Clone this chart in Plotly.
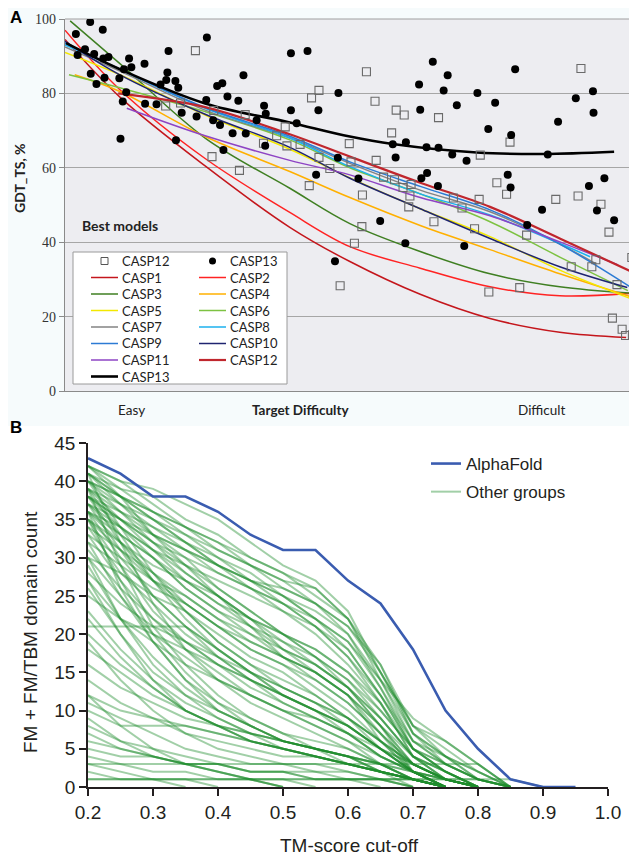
import plotly.graph_objects as go

# page body keeps an 8px margin, so the figure is drawn 8px smaller and shifted
OFF = 8
W, H = 637 - OFF, 857 - OFF

# ---------------- Panel A data ----------------
casp13_x = [1.9, 4.4, 6.6, 3.5, 2.2, 5.1, 6.7, 7.6, 4.5, 5.5,
            6.9, 9.5, 11.2, 11.6, 10.3, 13.9, 18.1, 17.9, 16.7, 17.7,
            19.3, 19.8, 10.1, 10.7, 14.0, 16.0, 9.7, 19.4, 20.4, 23.0,
            24.8, 24.7, 26.6, 27.5, 28.4, 30.3, 31.2, 25.9, 27.1, 29.3,
            31.6, 27.7, 33.5, 34.8, 35.1, 35.0, 39.5, 42.4, 39.5, 40.5,
            44.3, 47.8, 43.9, 47.7, 47.2, 64.3, 66.9, 61.9, 66.2, 72.1,
            75.2, 62.1, 68.5, 74.0, 57.3, 59.6, 63.2, 65.3, 67.7, 70.2,
            57.8, 63.3, 62.3, 65.2, 51.3, 55.1, 59.5, 69.8, 78.7, 78.0,
            84.4, 89.3, 92.3, 92.4, 86.2, 77.4, 77.9, 83.4, 91.6, 94.3,
            93.0, 96.0, 80.8]
casp13_y = [96.0, 99.2, 97.1, 91.9, 90.3, 90.6, 89.4, 89.8, 85.3, 82.5,
            84.2, 84.1, 89.4, 87.0, 86.5, 88.0, 91.4, 85.6, 82.4, 83.6,
            83.3, 81.5, 77.8, 80.3, 77.2, 77.1, 67.8, 67.4, 74.8, 73.8,
            95.0, 78.2, 82.0, 82.7, 79.2, 78.0, 84.9, 72.8, 71.5, 69.3,
            69.2, 64.8, 72.8, 76.7, 74.5, 65.9, 90.8, 91.4, 75.5, 72.0,
            75.5, 80.1, 58.1, 62.7, 34.9, 88.5, 84.9, 82.4, 80.8, 80.1,
            77.5, 75.6, 76.8, 70.4, 66.3, 66.9, 65.5, 65.4, 63.6, 61.9,
            62.8, 58.6, 57.2, 55.1, 57.1, 45.7, 39.7, 39.0, 86.5, 68.8,
            63.6, 78.7, 80.6, 74.8, 72.4, 58.1, 54.7, 48.7, 55.1, 57.2,
            48.5, 45.9, 44.6]

casp12_x = [22.8, 17.6, 20.2, 25.7, 26.0, 30.5, 31.5, 34.7, 37.0, 38.5,
            38.8, 41.1, 42.7, 43.1, 44.4, 44.4, 46.3, 49.7, 50.0, 50.6,
            48.1, 52.7, 54.2, 57.9, 59.3, 65.3, 57.1, 54.4, 55.7, 57.6,
            59.1, 60.5, 60.3, 60.1, 52.0, 51.9, 64.5, 67.9, 69.4, 72.4,
            71.6, 72.6, 75.5, 74.1, 90.2, 77.8, 77.2, 85.8, 89.7, 93.7,
            95.1, 80.7, 92.8, 88.5, 92.1, 99.1, 96.5, 79.5, 95.7, 97.4,
            98.0, 99.2]
casp12_y = [91.5, 76.6, 77.4, 63.0, 75.4, 59.3, 74.3, 66.6, 68.6, 71.0,
            65.9, 66.3, 55.2, 78.8, 80.8, 62.8, 59.8, 66.5, 61.6, 39.7,
            28.3, 85.8, 77.9, 75.5, 74.2, 73.5, 69.4, 62.0, 57.5, 56.8,
            54.7, 55.5, 52.4, 49.5, 52.7, 44.2, 45.5, 51.9, 49.2, 51.5,
            43.6, 63.4, 56.0, 26.6, 86.7, 66.9, 52.9, 51.5, 52.4, 50.2,
            42.7, 41.9, 35.3, 33.4, 33.4, 35.9, 28.6, 27.8, 19.6, 16.6,
            14.9, 15.1]

# trend curves (difficulty position, GDT_TS)
casp_names = ["CASP1", "CASP2", "CASP3", "CASP4", "CASP5", "CASP6", "CASP7",
              "CASP8", "CASP9", "CASP10", "CASP11", "CASP12", "CASP13"]
casp_colors = ["#c4161c", "#ff2323", "#3f7f22", "#ffb000", "#f3e800", "#7dc242",
               "#838383", "#1cb0ee", "#2c7bd4", "#1f2470", "#8e44c4", "#c0262d", "#000000"]
casp_widths = [1.5, 1.5, 1.5, 1.5, 1.5, 1.5, 1.5, 1.5, 1.5, 1.5, 1.5, 2.2, 2.6]

curve_x = {
    "CASP1": [0, 9.6, 24.5, 39.3, 49.8, 62.1, 74.3, 86.5, 98.1],
    "CASP2": [0, 9.6, 24.5, 39.3, 49.8, 62.1, 74.3, 86.5, 99.1],
    "CASP3": [0.9, 9.6, 24.5, 39.3, 49.8, 62.1, 74.3, 86.5, 98.8],
    "CASP4": [1.7, 9.6, 24.5, 39.3, 49.8, 62.1, 74.3, 86.5, 98.8],
    "CASP5": [0, 9.6, 24.5, 39.3, 49.8, 62.1, 74.3, 86.5, 99.1],
    "CASP6": [0.7, 9.6, 24.5, 39.3, 49.8, 62.1, 74.3, 86.5, 98.4],
    "CASP7": [0, 9.6, 24.5, 39.3, 49.8, 62.1, 74.3, 86.5, 92.7],
    "CASP8": [0, 9.6, 24.5, 39.3, 49.8, 62.1, 74.3, 91.8],
    "CASP9": [0, 9.6, 24.5, 39.3, 49.8, 62.1, 74.3, 86.5, 98.8],
    "CASP10": [0, 9.6, 24.5, 39.3, 49.8, 62.1, 74.3, 86.5, 98.3],
    "CASP11": [10.8, 24.5, 39.3, 49.8, 62.1, 74.3, 86.5, 96.7],
    "CASP12": [9.3, 24.5, 39.3, 49.8, 62.1, 74.3, 86.5, 99.3],
    "CASP13": [0.2, 9.6, 24.5, 39.3, 49.8, 57.3, 72.0, 83.6, 96.0],
}
curve_y = {
    "CASP1": [94.5, 79.0, 60.5, 44.0, 34.8, 26.0, 19.5, 15.8, 14.4],
    "CASP2": [97.0, 81.0, 62.5, 48.0, 38.8, 33.0, 28.0, 25.6, 26.3],
    "CASP3": [99.5, 88.0, 68.0, 54.5, 45.0, 37.5, 31.5, 28.0, 26.3],
    "CASP4": [85.0, 80.5, 68.4, 59.0, 52.0, 44.5, 38.0, 31.5, 25.4],
    "CASP5": [91.0, 85.0, 74.2, 65.0, 57.3, 49.0, 41.5, 32.5, 24.7],
    "CASP6": [85.0, 81.5, 75.1, 67.5, 60.0, 53.0, 45.5, 36.0, 27.0],
    "CASP7": [92.5, 86.0, 75.5, 68.0, 61.2, 54.0, 48.2, 39.5, 34.3],
    "CASP8": [93.0, 86.5, 76.0, 68.0, 60.3, 53.0, 47.3, 36.1],
    "CASP9": [93.5, 86.5, 76.2, 68.5, 61.6, 55.0, 48.7, 39.5, 28.0],
    "CASP10": [94.0, 85.0, 74.4, 65.5, 57.2, 49.0, 41.0, 33.4, 27.8],
    "CASP11": [76.0, 68.6, 62.0, 58.1, 52.0, 47.1, 40.1, 33.9],
    "CASP12": [80.0, 76.3, 69.0, 63.0, 56.0, 49.5, 41.0, 31.9],
    "CASP13": [93.5, 86.5, 77.3, 72.2, 68.4, 66.4, 64.1, 63.7, 64.3],
}

# ---------------- Panel B data ----------------
tm_cutoff = [0.20, 0.25, 0.30, 0.35, 0.40, 0.45, 0.50, 0.55,
             0.60, 0.65, 0.70, 0.75, 0.80, 0.85, 0.90, 0.95]
alphafold = [43, 41, 38, 38, 36, 33, 31, 31, 27, 24, 18, 10, 5, 1, 0, 0]

groups_top = [
    [42, 40, 39, 37, 35, 32, 29, 27, 23, 15, 8, 5, 2, 0],
    [41, 39, 38, 35, 33, 30, 28, 25, 22, 16, 7, 4, 1, 0],
    [42, 39, 36, 34, 32, 29, 27, 24, 21, 15, 8, 6, 3, 0],
    [40, 38, 36, 33, 31, 29, 26, 24, 20, 14, 6, 4, 2, 0],
    [41, 38, 35, 33, 30, 28, 25, 22, 19, 14, 7, 3, 1, 0],
    [39, 37, 35, 32, 30, 27, 25, 23, 20, 13, 5, 3, 1, 0],
    [42, 40, 37, 34, 31, 29, 27, 26, 22, 14, 9, 6, 3, 0],
    [38, 36, 34, 32, 29, 27, 24, 22, 18, 12, 6, 3, 1, 0],
    [40, 37, 34, 31, 29, 26, 24, 21, 17, 12, 5, 2, 0],
    [39, 36, 33, 31, 28, 26, 23, 20, 16, 11, 4, 2, 0],
    [41, 38, 36, 34, 32, 30, 28, 26, 22, 15, 7, 4, 2, 0],
    [38, 35, 33, 31, 29, 27, 25, 22, 19, 13, 6, 3, 1, 0],
    [37, 35, 32, 30, 28, 26, 24, 21, 18, 12, 5, 2, 0],
    [36, 34, 31, 29, 27, 25, 23, 21, 17, 11, 4, 1, 0],
    [40, 38, 35, 32, 29, 27, 26, 24, 21, 16, 8, 4, 1, 0],
]
groups_mid = [
    [38, 35, 32, 29, 26, 23, 20, 18, 15, 10, 5, 2, 0],
    [37, 33, 30, 27, 24, 22, 20, 17, 14, 9, 4, 2, 0],
    [36, 33, 30, 26, 23, 21, 19, 17, 13, 8, 3, 1, 0],
    [35, 32, 29, 27, 25, 22, 18, 15, 12, 8, 4, 2, 0],
    [40, 36, 32, 28, 25, 22, 20, 18, 15, 11, 5, 3, 1, 0],
    [34, 31, 28, 25, 22, 20, 18, 16, 13, 9, 4, 1, 0],
    [39, 35, 31, 27, 24, 21, 18, 16, 13, 8, 3, 1, 0],
    [33, 30, 27, 25, 22, 19, 17, 15, 12, 7, 3, 1, 0],
    [37, 34, 31, 28, 25, 21, 17, 14, 11, 7, 3, 1, 0],
    [36, 32, 28, 24, 21, 19, 17, 15, 12, 8, 2, 0],
    [42, 38, 33, 29, 25, 22, 19, 16, 13, 9, 4, 1, 0],
    [35, 31, 27, 24, 21, 18, 16, 14, 11, 7, 2, 0],
    [38, 34, 30, 26, 23, 20, 17, 15, 12, 6, 2, 0],
    [32, 29, 26, 24, 21, 18, 16, 13, 10, 6, 2, 0],
    [41, 37, 33, 30, 26, 23, 20, 17, 14, 10, 5, 2, 0],
    [30, 28, 25, 23, 20, 17, 15, 12, 9, 5, 2, 0],
]
groups_low = [
    [38, 32, 27, 23, 19, 16, 14, 12, 9, 6, 3, 1, 0],
    [36, 30, 25, 21, 18, 15, 12, 10, 8, 5, 2, 0],
    [34, 28, 24, 20, 17, 14, 12, 10, 8, 5, 2, 0],
    [40, 34, 28, 23, 19, 16, 13, 11, 9, 6, 3, 1, 0],
    [31, 26, 22, 19, 16, 14, 12, 10, 8, 5, 2, 1, 0],
    [28, 24, 21, 19, 17, 15, 13, 11, 8, 5, 2, 0],
    [25, 22, 20, 18, 16, 14, 12, 10, 8, 5, 3, 1, 0],
    [37, 31, 25, 21, 17, 14, 11, 9, 7, 4, 2, 0],
    [33, 27, 22, 18, 15, 12, 10, 8, 6, 3, 1, 0],
    [30, 25, 20, 17, 14, 12, 10, 9, 7, 4, 2, 1, 0],
    [39, 33, 27, 22, 18, 15, 12, 10, 7, 4, 2, 0],
    [27, 22, 19, 16, 14, 12, 10, 8, 6, 4, 2, 1, 0],
    [21, 21, 21, 21, 18, 15, 13, 11, 9, 6, 3, 1, 0],
    [35, 29, 23, 19, 16, 13, 11, 9, 7, 5, 3, 1, 0],
    [41, 32, 24, 18, 14, 11, 9, 7, 5, 3, 1, 0],
    [39, 29, 21, 16, 12, 9, 7, 5, 4, 2, 1, 0],
    [36, 26, 19, 14, 10, 8, 6, 5, 4, 3, 1, 0],
]
groups_weak = [
    [32, 25, 19, 14, 11, 9, 7, 6, 5, 3, 1, 0],
    [29, 22, 17, 13, 10, 8, 6, 5, 4, 2, 1, 0],
    [26, 20, 15, 12, 10, 8, 6, 5, 4, 3, 1, 0],
    [35, 27, 20, 15, 11, 8, 6, 5, 4, 2, 1, 0],
    [23, 18, 14, 11, 9, 7, 6, 5, 4, 3, 2, 1, 0],
    [20, 16, 13, 10, 8, 7, 6, 5, 4, 3, 2, 0],
    [18, 15, 12, 10, 8, 6, 5, 4, 3, 2, 1, 0],
    [30, 22, 16, 12, 9, 7, 5, 4, 3, 2, 0],
    [22, 17, 13, 10, 8, 6, 5, 4, 3, 2, 1, 0],
    [16, 13, 11, 9, 8, 7, 6, 5, 3, 2, 1, 0],
    [27, 20, 14, 10, 8, 6, 5, 4, 3, 2, 1, 0],
    [12, 10, 9, 8, 7, 6, 5, 4, 3, 2, 1, 0],
    [14, 11, 9, 7, 6, 5, 4, 4, 3, 2, 1, 0],
    [10, 8, 8, 8, 7, 6, 5, 4, 3, 2, 1, 0],
    [19, 14, 10, 7, 5, 4, 3, 3, 2, 1, 0],
]
groups_vweak = [
    [8, 6, 5, 4, 3, 2, 2, 1, 1, 0],
    [6, 5, 4, 3, 2, 1, 1, 0],
    [12, 8, 5, 3, 2, 1, 0],
    [9, 6, 4, 3, 2, 1, 0],
    [5, 4, 4, 3, 3, 2, 2, 1, 1, 1, 0],
    [4, 3, 2, 2, 1, 1, 0],
    [3, 2, 1, 1, 0],
    [2, 1, 1, 0],
    [1, 1, 1, 1, 1, 1, 1, 1, 1, 1, 1, 1, 1, 0],
    [1, 1, 1, 1, 1, 1, 1, 1, 1, 1, 1, 1, 1, 1, 0],
    [11, 9, 7, 5, 4, 3, 3, 2, 2, 1, 0],
    [7, 5, 4, 3, 3, 2, 2, 2, 1, 1, 1, 0],
    [3, 3, 3, 3, 3, 3, 3, 3, 3, 3, 3, 3, 3, 0],
]

# ---------------- figure ----------------
fig = go.Figure()

# Panel A curves
for name, col, wd in zip(casp_names, casp_colors, casp_widths):
    fig.add_trace(go.Scatter(
        x=curve_x[name], y=curve_y[name], mode="lines",
        line=dict(color=col, width=wd, shape="spline", smoothing=1.0),
        xaxis="x", yaxis="y", showlegend=False, hoverinfo="skip"))

fig.add_trace(go.Scatter(
    x=casp12_x, y=casp12_y, mode="markers", name="CASP12",
    marker=dict(symbol="square-open", size=8, color="#6a6a6a", line=dict(width=1.1)),
    xaxis="x", yaxis="y", showlegend=False))
fig.add_trace(go.Scatter(
    x=casp13_x, y=casp13_y, mode="markers", name="CASP13",
    marker=dict(symbol="circle", size=8, color="#000000"),
    xaxis="x", yaxis="y", showlegend=False))

# Panel B lines
green = "rgba(30,140,45,0.42)"
first = True
for grp in (groups_top, groups_mid, groups_low, groups_weak, groups_vweak):
    for ln in grp:
        fig.add_trace(go.Scatter(
            x=tm_cutoff[:len(ln)], y=ln, mode="lines", name="Other groups",
            line=dict(color=green, width=2), xaxis="x2", yaxis="y2",
            legendgroup="others", showlegend=first, legendrank=2, hoverinfo="skip"))
        first = False
fig.add_trace(go.Scatter(
    x=tm_cutoff, y=alphafold, mode="lines", name="AlphaFold",
    line=dict(color="#3a5cb0", width=2.6), xaxis="x2", yaxis="y2",
    legendgroup="af", showlegend=True, legendrank=1))


def px(xp):
    return (xp - OFF) / W


def py(yp):
    return 1 - (yp - OFF) / H


shapes = []
annotations = []
# light panel A background
shapes.append(dict(type="rect", xref="paper", yref="paper", x0=0, x1=1,
                   y0=py(426), y1=1, fillcolor="#f6fbfc", line=dict(width=0), layer="below"))
# panel A plot area
shapes.append(dict(type="rect", xref="x domain", yref="y domain", x0=0, x1=1, y0=0, y1=1,
                   fillcolor="#ededf1", line=dict(width=0), layer="below"))
shapes.append(dict(type="line", xref="x domain", yref="y domain", x0=0, x1=1, y0=1, y1=1,
                   line=dict(color="#a0a0a0", width=1.2), layer="below"))

# Panel A legend box
lx0, lx1, ly0, ly1 = 73, 287, 252, 384
shapes.append(dict(type="rect", xref="paper", yref="paper", x0=px(lx0), x1=px(lx1),
                   y0=py(ly1), y1=py(ly0), fillcolor="#ffffff",
                   line=dict(color="#9a9a9a", width=1)))
leg_items = [("CASP12", "square", None, 1), ("CASP13", "dot", None, 1)]
for name, col, wd in zip(casp_names, casp_colors, casp_widths):
    leg_items.append((name, "line", col, wd))
row_y = [261, 277.5, 294, 310.5, 327, 343.5, 360, 376.5]
for i, (name, kind, col, wd) in enumerate(leg_items):
    r, c = divmod(i, 2)
    yy = row_y[r]
    x0 = 91 if c == 0 else 199
    xt = 120 if c == 0 else 228
    if kind == "line":
        shapes.append(dict(type="line", xref="paper", yref="paper", x0=px(x0), x1=px(x0 + 27),
                           y0=py(yy), y1=py(yy), line=dict(color=col, width=wd)))
    elif kind == "square":
        shapes.append(dict(type="rect", xref="paper", yref="paper", x0=px(x0 + 10), x1=px(x0 + 17),
                           y0=py(yy + 3.5), y1=py(yy - 3.5), line=dict(color="#555555", width=1)))
    else:
        shapes.append(dict(type="circle", xref="paper", yref="paper", x0=px(x0 + 10), x1=px(x0 + 17),
                           y0=py(yy + 3.5), y1=py(yy - 3.5), fillcolor="#000000",
                           line=dict(color="#000000", width=0)))
    annotations.append(dict(text=name, xref="paper", yref="paper", x=px(xt), y=py(yy),
                            xanchor="left", yanchor="middle", showarrow=False,
                            font=dict(family="Lato", size=13, color="#222222")))

annotations += [
    dict(text="<b>Best models</b>", xref="paper", yref="paper", x=px(80), y=py(225),
         xanchor="left", yanchor="middle", showarrow=False,
         font=dict(family="Lato", size=14, color="#222222")),
    dict(text="<b>GDT_TS, %</b>", xref="paper", yref="paper", x=px(20), y=py(178),
         xanchor="center", yanchor="middle", showarrow=False, textangle=-90,
         font=dict(family="Lato", size=14, color="#222222")),
    dict(text="Easy", xref="paper", yref="paper", x=px(131), y=py(410),
         xanchor="center", yanchor="middle", showarrow=False,
         font=dict(family="Lato", size=13.5, color="#222222")),
    dict(text="<b>Target Difficulty</b>", xref="paper", yref="paper", x=px(300), y=py(410),
         xanchor="center", yanchor="middle", showarrow=False,
         font=dict(family="Lato", size=13.5, color="#222222")),
    dict(text="Difficult", xref="paper", yref="paper", x=px(542), y=py(410),
         xanchor="center", yanchor="middle", showarrow=False,
         font=dict(family="Lato", size=13.5, color="#222222")),
    dict(text="<b>A</b>", xref="paper", yref="paper", x=px(16), y=py(18),
         xanchor="center", yanchor="middle", showarrow=False,
         font=dict(family="Liberation Sans", size=17, color="#000000")),
    dict(text="<b>B</b>", xref="paper", yref="paper", x=px(16), y=py(428),
         xanchor="center", yanchor="middle", showarrow=False,
         font=dict(family="Liberation Sans", size=17, color="#000000")),
    dict(text="FM + FM/TBM domain count", xref="paper", yref="paper", x=px(30), y=py(632),
         xanchor="center", yanchor="middle", showarrow=False, textangle=-90,
         font=dict(family="Liberation Sans", size=19, color="#231f20")),
    dict(text="TM-score cut-off", xref="paper", yref="paper", x=px(349), y=py(845),
         xanchor="center", yanchor="middle", showarrow=False,
         font=dict(family="Liberation Sans", size=19, color="#231f20")),
]

axis_b = dict(showline=True, linecolor="#231f20", linewidth=1.5, ticks="outside",
              ticklen=7, tickwidth=1.5, tickcolor="#231f20", showgrid=False, zeroline=False,
              automargin=False,
              tickfont=dict(family="Liberation Sans", size=19, color="#231f20"))

fig.update_layout(
    width=W, height=H,
    margin=dict(l=0, r=0, t=0, b=0, autoexpand=False),
    paper_bgcolor="#ffffff", plot_bgcolor="rgba(0,0,0,0)",
    xaxis=dict(domain=[px(65), 1.0], range=[0, 100], anchor="y", automargin=False,
               showticklabels=False, showgrid=False, zeroline=False,
               showline=True, linecolor="#8a8a8a", linewidth=1.2, ticks=""),
    yaxis=dict(domain=[py(391), py(19)], range=[0, 100], anchor="x", automargin=False,
               tickvals=[0, 20, 40, 60, 80, 100], showgrid=True, gridcolor="#a6a6a6",
               gridwidth=1, zeroline=False, showline=True, linecolor="#8a8a8a", linewidth=1.2,
               ticks="outside", ticklen=5, tickcolor="#8a8a8a",
               tickfont=dict(family="Liberation Serif", size=14, color="#333333")),
    xaxis2=dict(domain=[px(88), px(608)], range=[0.2, 1.0], anchor="y2",
                tickvals=[0.2, 0.3, 0.4, 0.5, 0.6, 0.7, 0.8, 0.9, 1.0],
                ticktext=["0.2", "0.3", "0.4", "0.5", "0.6", "0.7", "0.8", "0.9", "1.0"],
                **axis_b),
    yaxis2=dict(domain=[py(787), py(443)], range=[0, 45], anchor="x2",
                tickvals=list(range(0, 46, 5)), **axis_b),
    legend=dict(x=px(426), y=py(446), xanchor="left", yanchor="top",
                bgcolor="rgba(0,0,0,0)", font=dict(family="Liberation Sans", size=17, color="#231f20"),
                itemwidth=30, tracegroupgap=3),
    shapes=shapes, annotations=annotations,
)

fig.write_html("out.html")
